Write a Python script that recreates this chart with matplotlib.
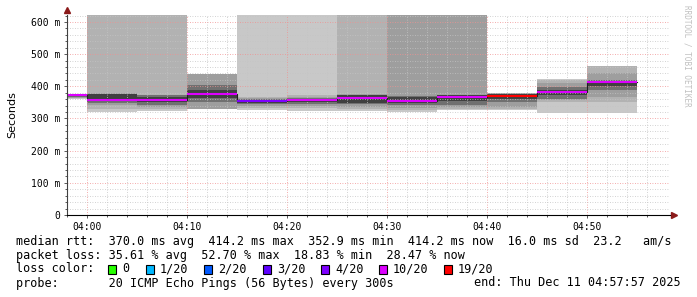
import numpy as np
import matplotlib.pyplot as plt
from matplotlib.patches import Rectangle

W, H = 697, 297
TOP = 700  # anything above the y-limit

# 5 minute steps, minutes relative to 04:00 (value covers the step ending at t)
seg_start = [-5, 0, 5, 10, 15, 20, 25, 30, 35, 40, 45, 50]
median_ms = [372, 359, 357, 376, 352.9, 357, 365, 355, 368, 370, 383, 414.2]
loss_pct = [35.0, 36.0, 34.0, 33.0, 18.83, 38.0, 36.0, 37.0, 40.0, 52.70, 33.0, 28.47]

# smoke bands, outer -> inner (ms)
smoke_lo = [
    [360, 363, 365, 367, 369],
    [320, 330, 342, 348, 355],
    [322, 330, 336, 342, 350],
    [330, 330, 330, 350, 365],
    [326, 334, 340, 345, 349],
    [323, 332, 340, 346, 352],
    [323, 328, 336, 344, 349],
    [320, 326, 333, 342, 348],
    [326, 330, 336, 342, 354],
    [326, 330, 337, 352, 360],
    [316, 352, 356, 362, 372],
    [316, 352, 368, 390, 400],
]
smoke_hi = [
    [377, 376, 375, 374, 373],
    [TOP, TOP, 378, 377, 376],
    [TOP, TOP, 374, 372, 366],
    [438, 438, 438, 405, 388],
    [TOP, 368, 364, 361, 358],
    [TOP, 372, 368, 365, 362],
    [TOP, TOP, 375, 374, 372],
    [TOP, TOP, TOP, 370, 366],
    [TOP, TOP, TOP, 374, 372],
    [380, 379, 378, 377, 375],
    [423, 420, 410, 398, 388],
    [463, 463, 440, 420, 416],
]
smoke_grays = ['#c8c8c8', '#b2b2b2', '#9e9e9e', '#707070', '#404040']

loss_labels = ['0', '1/20', '2/20', '3/20', '4/20', '10/20', '19/20']
loss_limits = [0, 1, 2, 3, 4, 10, 19]
loss_colors = ['#26ff00', '#00b8ff', '#0059ff', '#5e00ff', '#7e00ff', '#dd00ff', '#ff0000']

x_ticks = [0, 10, 20, 30, 40, 50]
x_ticklabels = ['04:00', '04:10', '04:20', '04:30', '04:40', '04:50']
y_ticks = [0, 100, 200, 300, 400, 500, 600]
y_ticklabels = ['0', '100 m', '200 m', '300 m', '400 m', '500 m', '600 m']


def loss_color(pct):
    n = pct / 100.0 * 20
    for lim, c in zip(loss_limits, loss_colors):
        if n <= lim:
            return c
    return loss_colors[-1]


mono = 'DejaVu Sans Mono'
fig = plt.figure(figsize=(W / 100, H / 100), dpi=100)
ax = fig.add_axes([67 / W, 82 / H, 603 / W, 200 / H])
ax.set_xlim(-2, 58.3)
ax.set_ylim(0, 621.7)

# smoke
for s, lo, hi in zip(seg_start, smoke_lo, smoke_hi):
    for k in range(5):
        ax.fill_between([s, s + 5], lo[k], min(hi[k], 621.7), color=smoke_grays[k],
                        lw=0, zorder=1)

# median
edges = seg_start + [seg_start[-1] + 5]
ax.step(edges, median_ms + [median_ms[-1]], where='post', color='#202020', lw=0.8, zorder=3)
for s, m, l in zip(seg_start, median_ms, loss_pct):
    ax.plot([s, s + 5], [m, m], color=loss_color(l), lw=1.5, zorder=4, solid_capstyle='butt')

# grid
ax.set_axisbelow(False)
ax.set_xticks(x_ticks)
ax.set_xticklabels(x_ticklabels, family=mono, fontsize=7)
ax.set_xticks(np.arange(-2, 58, 2), minor=True)
ax.set_yticks(y_ticks)
ax.set_yticklabels(y_ticklabels, family=mono, fontsize=7)
ax.set_yticks(np.arange(0, 621, 20), minor=True)
ax.grid(which='minor', color='#c4c4c4', ls=(0, (1, 2)), lw=0.6)
ax.grid(which='major', color='#f09090', ls=(0, (1, 2)), lw=0.6)
ax.tick_params(which='both', length=2, width=0.6, color='#404040', pad=3)
ax.tick_params(which='minor', length=1.5)

for side in ['top', 'right']:
    ax.spines[side].set_visible(False)
ax.spines['left'].set_color('#404040')
ax.spines['bottom'].set_color('black')
ax.spines['left'].set_zorder(5)
ax.spines['bottom'].set_zorder(5)
ax.plot([0], [1.025], marker='^', color='#8b1a1a', ms=4, transform=ax.transAxes, clip_on=False)
ax.plot([1.007], [0], marker='>', color='#8b1a1a', ms=4, transform=ax.transAxes, clip_on=False)

ax.set_ylabel('Seconds', fontsize=8, labelpad=10)

fig.text(687 / W, 1 - 5 / H, 'RRDTOOL / TOBI OETIKER', rotation=270, va='top', ha='center',
         color='#c0c0c0', fontsize=5.5, family=mono)

# legend
fs = 8.5
def fy(y):
    return 1 - y / H

fig.text(16 / W, fy(241), 'median rtt:  370.0 ms avg  414.2 ms max  352.9 ms min  414.2 ms now  16.0 ms sd  23.2   am/s',
         family=mono, fontsize=fs, va='center')
fig.text(16 / W, fy(255), 'packet loss: 35.61 % avg  52.70 % max  18.83 % min  28.47 % now',
         family=mono, fontsize=fs, va='center')
fig.text(16 / W, fy(269), 'loss color:', family=mono, fontsize=fs, va='center')
box_x = [108, 146, 204, 263, 321, 379, 444]
for bx, lab, c in zip(box_x, loss_labels, loss_colors):
    fig.patches.append(Rectangle((bx / W, fy(274)), 8 / W, 9 / H, transform=fig.transFigure,
                                 facecolor=c, edgecolor='black', lw=0.8))
    fig.text((bx + 14) / W, fy(269), lab, family=mono, fontsize=fs, va='center')
fig.text(16 / W, fy(283), 'probe:       20 ICMP Echo Pings (56 Bytes) every 300s',
         family=mono, fontsize=fs, va='center')
fig.text(681 / W, fy(283), 'end: Thu Dec 11 04:57:57 2025', family=mono, fontsize=fs,
         va='center', ha='right')

fig.savefig('out.png', dpi=100)
